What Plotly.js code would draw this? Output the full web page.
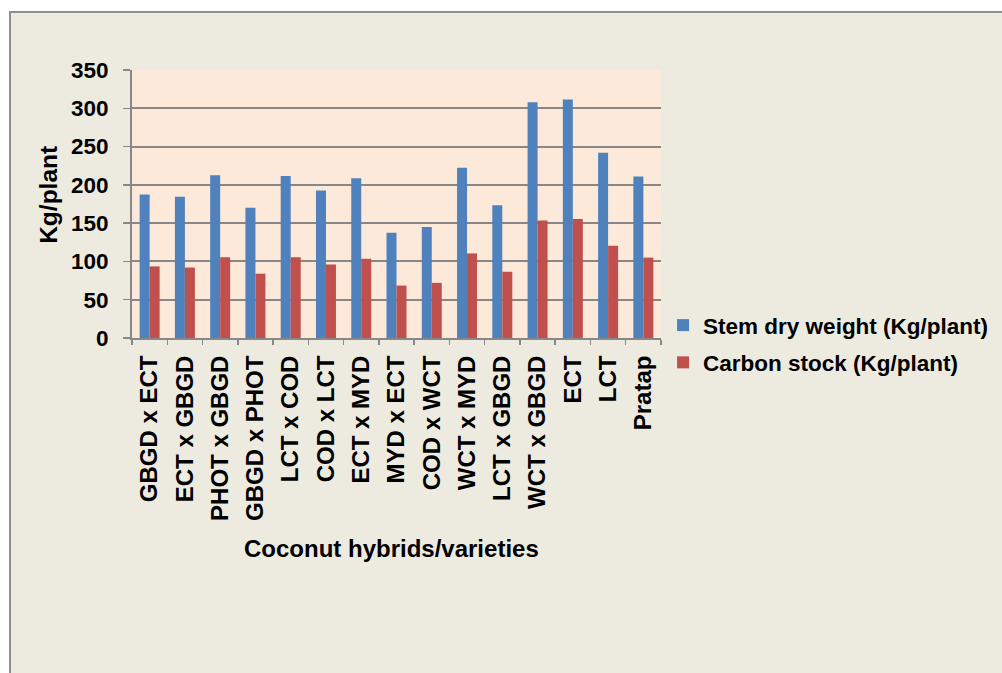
<!DOCTYPE html>
<html>
<head>
<meta charset="utf-8">
<script src="https://cdn.plot.ly/plotly-3.0.1.min.js"></script>
<style>
html,body{margin:0;padding:0;background:#ffffff;width:1002px;height:673px;overflow:hidden;}
#frame{position:absolute;left:9px;top:11px;border-top:2px solid #8e8e8e;border-left:2px solid #8e8e8e;width:991px;height:660px;background:#EDEBE0;}
#chart{width:991px;height:660px;}
</style>
</head>
<body>
<div id="frame"><div id="chart"></div></div>
<script>
const categories = ["GBGD x ECT","ECT x GBGD","PHOT x GBGD","GBGD x PHOT","LCT x COD","COD x LCT","ECT x MYD","MYD x ECT","COD x WCT","WCT x MYD","LCT x GBGD","WCT x GBGD","ECT","LCT","Pratap"];
const stemDryWeight = [187.5, 184.5, 212.5, 170, 211.5, 192.5, 208.5, 137.5, 145, 222.5, 173.5, 308, 311.5, 242, 211];
const carbonStock = [93.5, 92, 105.5, 84, 105.5, 96, 103.5, 68.5, 72, 110.5, 86.5, 153.5, 155.5, 120.5, 105];
const yTicks = [0, 50, 100, 150, 200, 250, 300, 350];
const xTitle = "Coconut hybrids/varieties";
const yTitle = "Kg/plant";

const font = "Arial, 'Liberation Sans', sans-serif";

const traces = [
  {type:"bar", name:"Stem dry weight (Kg/plant)", x:categories, y:stemDryWeight,
   marker:{color:"#4F81BD"}, legendgroup:"a"},
  {type:"bar", name:"Carbon stock (Kg/plant)", x:categories, y:carbonStock,
   marker:{color:"#C0504D"}, legendgroup:"b"}
];

const layout = {
  width:991, height:660,
  margin:{l:121, r:341, t:57, b:335, pad:0, autoexpand:false},
  paper_bgcolor:"#EDEBE0",
  plot_bgcolor:"#FDE9D9",
  barmode:"group",
  bargap:0.433,
  bargroupgap:0,
  font:{family:font, color:"#000000"},
  showlegend:true,
  legend:{xref:"container", yref:"container", x:0.658, xanchor:"left", y:0.4985, yanchor:"middle",
          font:{family:font, size:22.5, color:"#000", weight:"bold"},
          bgcolor:"rgba(0,0,0,0)", tracegroupgap:5, traceorder:"grouped"},
  xaxis:{
    type:"category",
    tickangle:-90,
    tickfont:{family:font, size:24, color:"#000", weight:"bold"},
    ticks:"outside", ticklen:5, tickcolor:"#888", tickwidth:1.5,
    tickson:"boundaries",
    ticklabelstandoff:6,
    showline:true, linecolor:"#888", linewidth:2,
    showgrid:false,
    automargin:false,
    title:{text:""},
    fixedrange:true
  },
  yaxis:{
    range:[0,350],
    tickvals:yTicks,
    tickfont:{family:font, size:22.5, color:"#000", weight:"bold"},
    ticks:"outside", ticklen:7, tickcolor:"#888", tickwidth:1.5,
    ticklabelstandoff:10,
    showline:true, linecolor:"#888", linewidth:2,
    showgrid:true, gridcolor:"#878787", gridwidth:2,
    zeroline:false,
    automargin:false,
    title:{text:""},
    fixedrange:true
  },
  annotations:[
    {text:xTitle, xref:"paper", yref:"paper", x:0.49, y:-0.785, xanchor:"center", yanchor:"middle",
     showarrow:false, font:{family:font, size:24, color:"#000", weight:"bold"}},
    {text:yTitle, xref:"paper", yref:"paper", x:-0.157, y:0.534, xanchor:"center", yanchor:"middle",
     textangle:-90, showarrow:false, font:{family:font, size:24.5, color:"#000", weight:"bold"}}
  ]
};

Plotly.newPlot("chart", traces, layout, {displayModeBar:false, staticPlot:true});
</script>
</body>
</html>
